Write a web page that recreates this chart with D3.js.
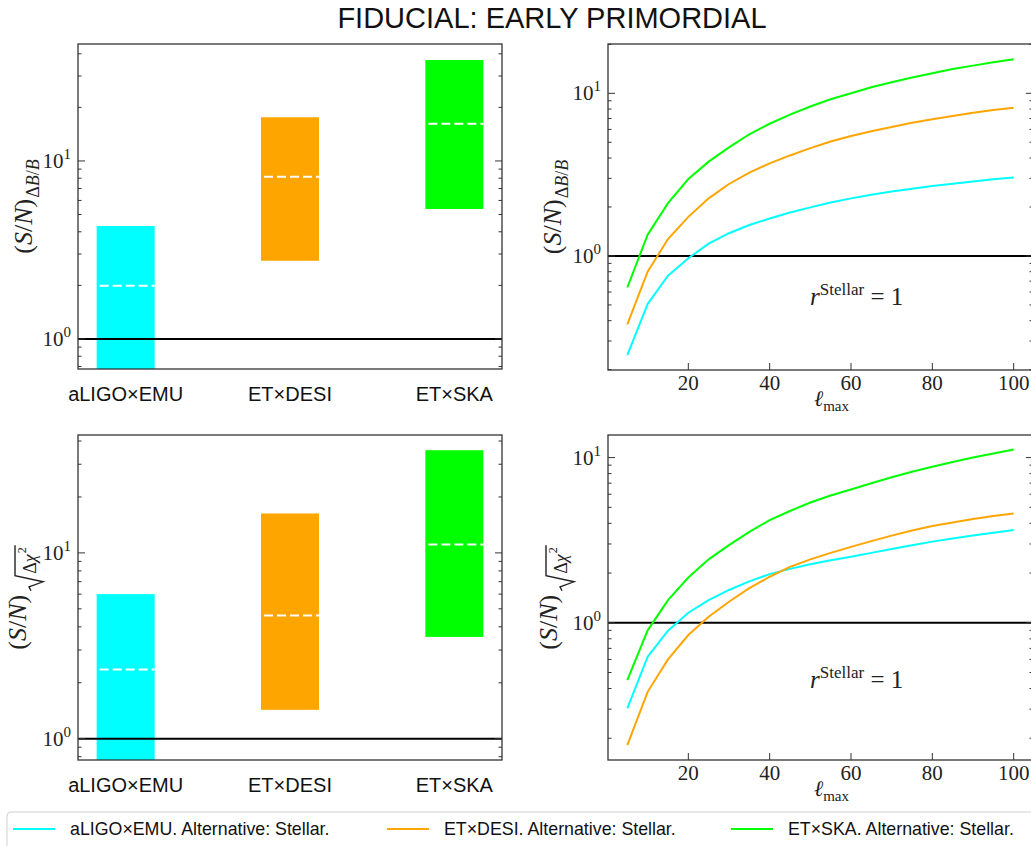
<!DOCTYPE html>
<html>
<head>
<meta charset="utf-8">
<script src="https://cdn.jsdelivr.net/npm/d3@7"></script>
<style>
  body { margin: 0; background: #fff; }
  svg { display: block; }
</style>
</head>
<body>
<div id="chart"></div>
<script>
// categories and colours
var categories = ["aLIGO\u00d7EMU", "ET\u00d7DESI", "ET\u00d7SKA"];
var colors = ["#00ffff", "#ffa500", "#00ff00"];

// bar ranges (S/N)_{dB/B}
var bbLow = [0.5, 2.75, 5.37];
var bbHigh = [4.31, 17.6, 36.9];
var bbMid = [1.99, 8.16, 16.2];

// bar ranges (S/N)_{sqrt dchi2}
var chiLow = [0.5, 1.43, 3.53];
var chiHigh = [6.0, 16.3, 35.7];
var chiMid = [2.36, 4.61, 11.1];

// lmax curves
var ellMax = [5, 10, 15, 20, 25, 30, 35, 40, 45, 50, 55, 60, 65, 70, 75, 80, 85, 90, 95, 100];
var bbEmu  = [0.246, 0.507, 0.757, 0.968, 1.19, 1.38, 1.55, 1.70, 1.85, 1.99, 2.13, 2.26, 2.38, 2.49, 2.59, 2.69, 2.78, 2.87, 2.96, 3.04];
var bbDesi = [0.38, 0.80, 1.27, 1.74, 2.26, 2.77, 3.25, 3.71, 4.15, 4.6, 5.05, 5.46, 5.85, 6.2, 6.6, 6.92, 7.25, 7.6, 7.9, 8.16];
var bbSka  = [0.64, 1.35, 2.11, 2.97, 3.80, 4.65, 5.6, 6.5, 7.4, 8.3, 9.2, 10.0, 10.9, 11.7, 12.5, 13.3, 14.1, 14.8, 15.5, 16.2];
var chiEmu  = [0.303, 0.623, 0.895, 1.15, 1.37, 1.58, 1.78, 1.97, 2.12, 2.26, 2.39, 2.51, 2.65, 2.8, 2.95, 3.10, 3.24, 3.38, 3.51, 3.64];
var chiDesi = [0.182, 0.382, 0.60, 0.843, 1.087, 1.34, 1.62, 1.90, 2.18, 2.42, 2.65, 2.88, 3.12, 3.37, 3.62, 3.85, 4.05, 4.25, 4.43, 4.59];
var chiSka  = [0.45, 0.90, 1.37, 1.88, 2.42, 2.95, 3.55, 4.18, 4.75, 5.35, 5.9, 6.41, 7.0, 7.6, 8.2, 8.79, 9.4, 10.0, 10.6, 11.2];

var xTicks = [20, 40, 60, 80, 100];
var legendLabels = ["aLIGO\u00d7EMU. Alternative: Stellar.", "ET\u00d7DESI. Alternative: Stellar.", "ET\u00d7SKA. Alternative: Stellar."];

var w = 1031, h = 846;
var serif = "'Liberation Serif', 'DejaVu Serif', serif";
var sans = "'Liberation Sans', 'DejaVu Sans', sans-serif";

var svg = d3.select("#chart").append("svg")
  .attr("width", w)
  .attr("height", h);

svg.append("text")
  .attr("x", 552).attr("y", 28)
  .attr("text-anchor", "middle")
  .style("font-family", sans)
  .style("font-size", "29px")
  .attr("fill", "#111")
  .text("FIDUCIAL: EARLY PRIMORDIAL");

// log axis ticks (inward) + labels
function logTicks(g, y, x0, x1) {
  var dom = y.domain();
  var lo = Math.floor(Math.log10(dom[0])), hi = Math.ceil(Math.log10(dom[1]));
  for (var e = lo; e <= hi; e++) {
    for (var m = 1; m < 10; m++) {
      var v = m * Math.pow(10, e);
      if (v < dom[0] || v > dom[1]) continue;
      var len = m === 1 ? 7 : 3.5;
      var yy = y(v);
      g.append("line").attr("x1", x0).attr("x2", x0 + len).attr("y1", yy).attr("y2", yy)
        .attr("stroke", "#333").attr("stroke-width", 1);
      g.append("line").attr("x1", x1).attr("x2", x1 - len).attr("y1", yy).attr("y2", yy)
        .attr("stroke", "#333").attr("stroke-width", 1);
      if (m === 1) {
        var t = g.append("text")
          .attr("x", x0 - 7).attr("y", yy + 7)
          .attr("text-anchor", "end")
          .style("font-family", serif)
          .style("font-size", "21px")
          .attr("fill", "#222");
        t.append("tspan").text("10");
        t.append("tspan").attr("dy", -9).style("font-size", "15px").text(e);
      }
    }
  }
}

function frame(g, x0, y0, x1, y1) {
  g.append("rect").attr("x", x0).attr("y", y0).attr("width", x1 - x0).attr("height", y1 - y0)
    .attr("fill", "none").attr("stroke", "#333").attr("stroke-width", 1.3);
}

// rotated y label, built left-to-right then centred
function yLabel(g, cx, cy, kind) {
  var outer = g.append("g").attr("transform", "translate(" + cx + "," + cy + ") rotate(-90)");
  var lab = outer.append("g");
  var t = lab.append("text")
    .style("font-family", serif)
    .style("font-size", "26px")
    .attr("fill", "#222");
  t.append("tspan").text("(");
  t.append("tspan").style("font-style", "italic").text("S");
  t.append("tspan").text("/");
  t.append("tspan").style("font-style", "italic").text("N");
  t.append("tspan").text(")");
  var L = t.node().getComputedTextLength();
  var total;
  if (kind === "bb") {
    var s = lab.append("text").attr("x", L + 1).attr("y", 7)
      .style("font-family", serif).style("font-size", "18px").attr("fill", "#222");
    s.append("tspan").text("\u0394");
    s.append("tspan").style("font-style", "italic").text("B");
    s.append("tspan").text("/");
    s.append("tspan").style("font-style", "italic").text("B");
    total = L + 1 + s.node().getComputedTextLength();
  } else {
    var r = lab.append("text").attr("x", L + 21).attr("y", 10)
      .style("font-family", serif).style("font-size", "18px").attr("fill", "#222");
    r.append("tspan").text("\u0394");
    r.append("tspan").style("font-style", "italic").text("\u03c7");
    var rw = r.node().getComputedTextLength();
    lab.append("text").attr("x", L + 22 + rw).attr("y", 0)
      .style("font-family", serif).style("font-size", "12px").attr("fill", "#222")
      .text("2");
    var xe = L + 21 + rw + 9;
    lab.append("path")
      .attr("d", "M" + (L + 4) + ",5 L" + (L + 8) + ",3 L" + (L + 13) + ",17 L" + (L + 19) + ",-11 L" + xe + ",-11")
      .attr("fill", "none").attr("stroke", "#222").attr("stroke-width", 1.4);
    total = xe;
  }
  lab.attr("transform", "translate(" + (-total / 2) + ",0)");
}

function barPanel(box, low, high, mid, kind, id) {
  var g = svg.append("g");
  var x = d3.scalePoint().domain(categories).range([box.x0, box.x1]).padding(0.29);
  var y = d3.scaleLog().domain(box.dom).range([box.y1, box.y0]);
  var bw = 58;

  svg.append("clipPath").attr("id", id).append("rect")
    .attr("x", box.x0).attr("y", box.y0).attr("width", box.x1 - box.x0).attr("height", box.y1 - box.y0);
  var inner = g.append("g").attr("clip-path", "url(#" + id + ")");

  inner.selectAll("rect.bar").data(categories).enter().append("rect")
    .attr("class", "bar")
    .attr("x", function (d) { return x(d) - bw / 2; })
    .attr("y", function (d, i) { return y(high[i]); })
    .attr("width", bw)
    .attr("height", function (d, i) { return y(low[i]) - y(high[i]); })
    .attr("fill", function (d, i) { return colors[i]; });

  inner.selectAll("line.mid").data(categories).enter().append("line")
    .attr("x1", function (d) { return x(d) - bw / 2 + 3; })
    .attr("x2", function (d) { return x(d) + bw / 2; })
    .attr("y1", function (d, i) { return y(mid[i]); })
    .attr("y2", function (d, i) { return y(mid[i]); })
    .attr("stroke", "#fff").attr("stroke-width", 2).attr("stroke-dasharray", "9,4");

  inner.append("line").attr("x1", box.x0).attr("x2", box.x1).attr("y1", y(1)).attr("y2", y(1))
    .attr("stroke", "#000").attr("stroke-width", 2);

  logTicks(g, y, box.x0, box.x1);
  frame(g, box.x0, box.y0, box.x1, box.y1);

  g.selectAll("text.cat").data(categories).enter().append("text")
    .attr("class", "cat")
    .attr("x", function (d) { return x(d); })
    .attr("y", box.y1 + 32)
    .attr("text-anchor", "middle")
    .style("font-family", sans)
    .style("font-size", "20px")
    .attr("fill", "#111")
    .text(function (d) { return d; });

  yLabel(g, box.labelX, (box.y0 + box.y1) / 2, kind);
}

function curvePanel(box, series, kind, id) {
  var g = svg.append("g");
  var x = d3.scaleLinear().domain([0.25, 104.75]).range([box.x0, box.x1]);
  var y = d3.scaleLog().domain(box.dom).range([box.y1, box.y0]);

  svg.append("clipPath").attr("id", id).append("rect")
    .attr("x", box.x0).attr("y", box.y0).attr("width", box.x1 - box.x0).attr("height", box.y1 - box.y0);
  var inner = g.append("g").attr("clip-path", "url(#" + id + ")");

  inner.append("line").attr("x1", box.x0).attr("x2", box.x1).attr("y1", y(1)).attr("y2", y(1))
    .attr("stroke", "#000").attr("stroke-width", 2);

  var line = d3.line()
    .x(function (d, i) { return x(ellMax[i]); })
    .y(function (d) { return y(d); });

  series.forEach(function (s, i) {
    inner.append("path").datum(s)
      .attr("d", line)
      .attr("fill", "none")
      .attr("stroke", colors[i])
      .attr("stroke-width", 2);
  });

  logTicks(g, y, box.x0, box.x1);
  xTicks.forEach(function (t) {
    g.append("line").attr("x1", x(t)).attr("x2", x(t)).attr("y1", box.y1).attr("y2", box.y1 - 7)
      .attr("stroke", "#333").attr("stroke-width", 1);
    g.append("text").attr("x", x(t)).attr("y", box.y1 + 20)
      .attr("text-anchor", "middle")
      .style("font-family", serif).style("font-size", "21px").attr("fill", "#222")
      .text(t);
  });
  frame(g, box.x0, box.y0, box.x1, box.y1);

  // l_max label
  var xl = g.append("text").attr("x", 814).attr("y", box.y1 + 36)
    .style("font-family", serif).style("font-size", "22px").attr("fill", "#222");
  xl.append("tspan").style("font-style", "italic").text("\u2113");
  xl.append("tspan").attr("dy", 5).style("font-size", "15px").text("max");

  // r^Stellar = 1
  var ann = g.append("text").attr("x", 810).attr("y", box.annY)
    .style("font-family", serif).style("font-size", "25px").attr("fill", "#222");
  ann.append("tspan").style("font-style", "italic").text("r");
  ann.append("tspan").attr("dy", -10).style("font-size", "17px").text("Stellar");
  ann.append("tspan").attr("dy", 10).text(" = 1");

  yLabel(g, box.labelX, (box.y0 + box.y1) / 2, kind);
}

barPanel({ x0: 78, x1: 502, y0: 44, y1: 369, dom: [0.678, 45.4], labelX: 32 }, bbLow, bbHigh, bbMid, "bb", "c1");
curvePanel({ x0: 608, x1: 1033, y0: 44, y1: 370, dom: [0.199, 20.1], labelX: 561, annY: 305 }, [bbEmu, bbDesi, bbSka], "bb", "c2");
barPanel({ x0: 78, x1: 502, y0: 435, y1: 760, dom: [0.768, 43.1], labelX: 26 }, chiLow, chiHigh, chiMid, "chi", "c3");
curvePanel({ x0: 608, x1: 1033, y0: 435, y1: 760, dom: [0.1477, 13.7], labelX: 557, annY: 688 }, [chiEmu, chiDesi, chiSka], "chi", "c4");

// legend
var lg = svg.append("g");
lg.append("rect").attr("x", 7).attr("y", 812).attr("width", 1040).attr("height", 44).attr("rx", 4)
  .attr("fill", "#fff").attr("stroke", "#d0d0d0").attr("stroke-width", 1);
var legX = [13, 387, 731];
legendLabels.forEach(function (lab, i) {
  lg.append("line").attr("x1", legX[i]).attr("x2", legX[i] + 42).attr("y1", 829).attr("y2", 829)
    .attr("stroke", colors[i]).attr("stroke-width", 2);
  lg.append("text").attr("x", legX[i] + 57).attr("y", 835)
    .style("font-family", sans).style("font-size", "17.8px").attr("fill", "#111")
    .text(lab);
});
</script>
</body>
</html>
